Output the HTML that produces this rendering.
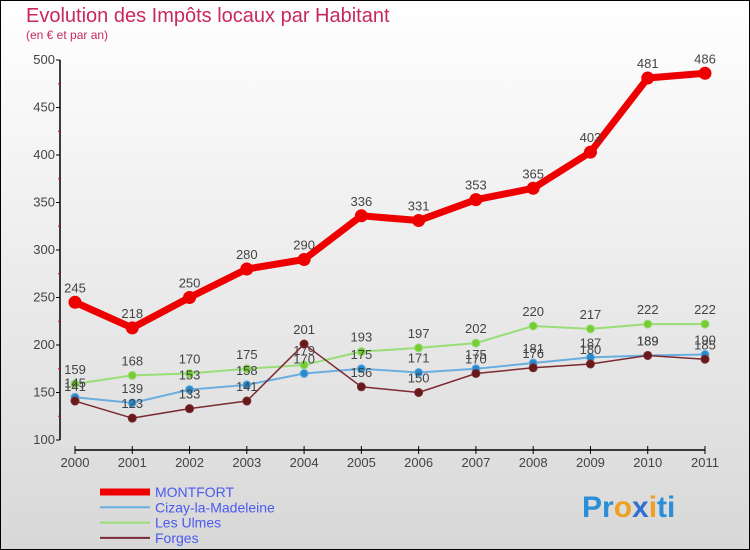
<!DOCTYPE html>
<html><head><meta charset="utf-8"><style>
body{margin:0}
#c{width:750px;height:550px;position:relative;box-sizing:border-box;border:1px solid #000;background:linear-gradient(#fff,#d8d8d8);font-family:"Liberation Sans",sans-serif;overflow:hidden}
</style></head><body>
<div id="c">
<svg id="s" width="750" height="550" style="position:absolute;left:-1px;top:-1px">
<text x="26" y="22" font-size="20" fill="#c8285a">Evolution des Impôts locaux par Habitant</text>
<text x="26" y="39" font-size="12" fill="#c8285a">(en € et par an)</text>
<g id="axes"></g><g id="series"></g><g id="legend"></g>
<text x="582" y="517" font-size="30" font-weight="bold" fill="#2a8fd8">Pr<tspan fill="#f0a020">o</tspan><tspan fill="#3070d0">x</tspan><tspan fill="#f0a020">i</tspan>ti</text>
</svg>
</div>
<script>
const years=["2000","2001","2002","2003","2004","2005","2006","2007","2008","2009","2010","2011"];
const yTicks=[100,150,200,250,300,350,400,450,500];
const montfort=[245,218,250,280,290,336,331,353,365,403,481,486];
const cizay=[145,139,153,158,170,175,171,175,181,187,189,190];
const ulmes=[159,168,170,175,179,193,197,202,220,217,222,222];
const forges=[141,123,133,141,201,156,150,170,176,180,189,185];
const NS="http://www.w3.org/2000/svg";
const X=i=>75+i*(630/11), Y=v=>440-(v-100)*0.95;
function mk(t,a,p){const e=document.createElementNS(NS,t);for(const k in a)e.setAttribute(k,a[k]);p.appendChild(e);return e;}
const ax=document.getElementById('axes');
let e=mk('line',{x1:60,y1:60,x2:60,y2:440,stroke:'#000','stroke-width':1.5},ax);


e=mk('line',{x1:75,y1:450,x2:705,y2:450,stroke:'#000','stroke-width':1.5},ax);


yTicks.forEach(v=>{mk('line',{x1:56,y1:Y(v),x2:60,y2:Y(v),stroke:'#000'},ax);
if(v<500)mk('line',{x1:58,y1:Y(v+25),x2:60,y2:Y(v+25),stroke:'#e00'},ax);
const t=mk('text',{x:55,y:Y(v)+4,'font-size':13,fill:'#444','text-anchor':'end'},ax);t.textContent=v;

});
years.forEach((y,i)=>{mk('line',{x1:X(i),y1:446,x2:X(i),y2:454,stroke:'#000'},ax);
const t=mk('text',{x:X(i),y:467,'font-size':13,fill:'#444','text-anchor':'middle'},ax);t.textContent=y;

});
const sg=document.getElementById('series');
function draw(d,col,w,r,name,dot){const g=mk('g',{},sg);


const l=mk('polyline',{points:d.map((v,i)=>X(i)+','+Y(v)).join(' '),fill:'none',stroke:col,'stroke-width':w,'stroke-linejoin':'round'},g);


d.forEach((v,i)=>{const c=mk('circle',{cx:X(i),cy:Y(v),r:r,fill:dot,stroke:col,'stroke-width':1},g);


const t=mk('text',{x:X(i),y:Y(v)-10,'font-size':13,fill:'#444','text-anchor':'middle'},g);t.textContent=v;

});}
draw(ulmes,'#99dd77',2,4,'les-ulmes','#77cc33');
draw(cizay,'#6aaee0',2,4,'cizay','#2a88cc');
draw(forges,'#7a2a30',1.5,4,'forges','#661a1a');
draw(montfort,'#ee0000',7,6,'montfort','#ee0000');
const lg=document.getElementById('legend');
[["MONTFORT","#ee0000",7],["Cizay-la-Madeleine","#6aaee0",2],["Les Ulmes","#99dd77",2],["Forges","#7a2a30",2]].forEach((s,i)=>{
const y=492+i*15.3;const g=mk('g',{},lg);


mk('line',{x1:100,y1:y,x2:150,y2:y,stroke:s[1],'stroke-width':s[2]},g);
const t=mk('text',{x:155,y:y+5,'font-size':14,fill:'#4a5aee'},g);t.textContent=s[0];});
</script>
</body></html>
